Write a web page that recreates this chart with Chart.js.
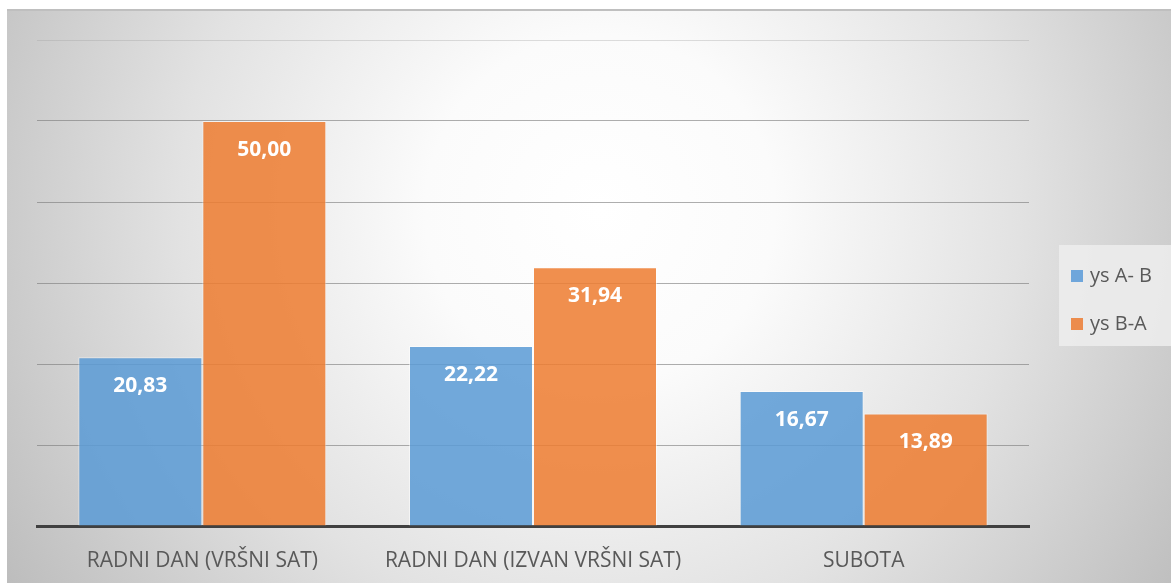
<!DOCTYPE html>
<html>
<head>
<meta charset="utf-8">
<script src="https://cdn.jsdelivr.net/npm/chart.js@4/dist/chart.umd.min.js"></script>
<style>
  html, body { margin: 0; padding: 0; background: #ffffff; }
  #wrap { width: 1171px; height: 583px; position: relative; }
</style>
</head>
<body>
<div id="wrap"><canvas id="c" width="1171" height="583"></canvas></div>
<script>
// Categories and series
const categories = ['RADNI DAN (VRŠNI SAT)', 'RADNI DAN (IZVAN VRŠNI SAT)', 'SUBOTA'];
const seriesAB = [20.83, 22.22, 16.67];
const seriesBA = [50.00, 31.94, 13.89];
const seriesNames = ['ys A- B', 'ys B-A'];
const yTicks = [0, 10, 20, 30, 40, 50, 60];

const blue = 'rgba(91,155,213,0.86)';
const orange = 'rgba(237,125,49,0.86)';
const legendSwatch = ['#6fa6db', '#ec8c4d'];
const FONT = '"Open Sans", Lato, sans-serif';

function fmt(v) { return v.toFixed(2).replace('.', ','); }

// Radial grey backdrop behind the whole chart
const backdrop = {
  id: 'backdrop',
  beforeDraw(chart) {
    const ctx = chart.ctx;
    ctx.save();
    ctx.fillStyle = '#ffffff';
    ctx.fillRect(0, 0, chart.width, chart.height);
    const g = ctx.createRadialGradient(600, 210, 0, 600, 210, 700);
    g.addColorStop(0, '#ffffff');
    g.addColorStop(0.25, '#fbfbfb');
    g.addColorStop(0.6, '#e2e2e2');
    g.addColorStop(1, '#bdbdbd');
    ctx.fillStyle = g;
    ctx.fillRect(7, 9, chart.width - 7, chart.height - 9);
    ctx.fillStyle = '#bfbfbf';
    ctx.fillRect(7, 9, chart.width - 7, 2);
    ctx.restore();
  }
};

// White value labels inside the top of each bar
const valueLabels = {
  id: 'valueLabels',
  afterDatasetsDraw(chart) {
    const ctx = chart.ctx;
    ctx.save();
    ctx.fillStyle = '#ffffff';
    ctx.font = 'bold 21px ' + FONT;
    ctx.textAlign = 'center';
    ctx.textBaseline = 'middle';
    chart.data.datasets.forEach((ds, i) => {
      chart.getDatasetMeta(i).data.forEach((bar, j) => {
        ctx.fillText(fmt(ds.data[j]), bar.x, bar.y + 29);
      });
    });
    ctx.restore();
  }
};

// Legend box on the right
const sideLegend = {
  id: 'sideLegend',
  afterDraw(chart) {
    const ctx = chart.ctx;
    ctx.save();
    ctx.fillStyle = 'rgba(236,236,236,0.9)';
    ctx.fillRect(1059, 245, 112, 101);
    ctx.font = '20px ' + FONT;
    ctx.textBaseline = 'middle';
    ctx.textAlign = 'left';
    chart.data.datasets.forEach((ds, i) => {
      const y = 276 + i * 48;
      ctx.fillStyle = legendSwatch[i];
      ctx.fillRect(1071, y - 6, 12, 12);
      ctx.fillStyle = '#595959';
      ctx.fillText(ds.label, 1090, y);
    });
    ctx.restore();
  }
};

new Chart(document.getElementById('c'), {
  type: 'bar',
  data: {
    labels: categories,
    datasets: [
      { label: seriesNames[0], data: seriesAB, backgroundColor: blue, borderColor: 'rgba(255,255,255,0.5)', borderWidth: 1 },
      { label: seriesNames[1], data: seriesBA, backgroundColor: orange, borderColor: 'rgba(255,255,255,0.5)', borderWidth: 1 }
    ]
  },
  options: {
    responsive: false,
    animation: false,
    layout: { padding: { left: 37, right: 142, top: 40, bottom: 0 } },
    datasets: { bar: { categoryPercentage: 0.75, barPercentage: 1.0 } },
    plugins: { legend: { display: false }, tooltip: { enabled: false } },
    scales: {
      x: {
        afterFit(axis) { axis.height = 57; },
        grid: { display: false, drawTicks: false },
        border: { display: true, color: '#404040', width: 3 },
        ticks: { color: '#595959', font: { family: FONT, size: 21 }, padding: 22 }
      },
      y: {
        min: yTicks[0],
        max: yTicks[yTicks.length - 1],
        afterBuildTicks(axis) { axis.ticks = yTicks.map(v => ({ value: v })); },
        ticks: { display: false },
        border: { display: false },
        grid: {
          drawTicks: false,
          color: ctx => ctx.tick && ctx.tick.value === 60 ? 'rgba(160,160,160,0.35)' : 'rgba(120,120,120,0.6)',
          lineWidth: 1
        }
      }
    }
  },
  plugins: [backdrop, valueLabels, sideLegend]
});
</script>
</body>
</html>
